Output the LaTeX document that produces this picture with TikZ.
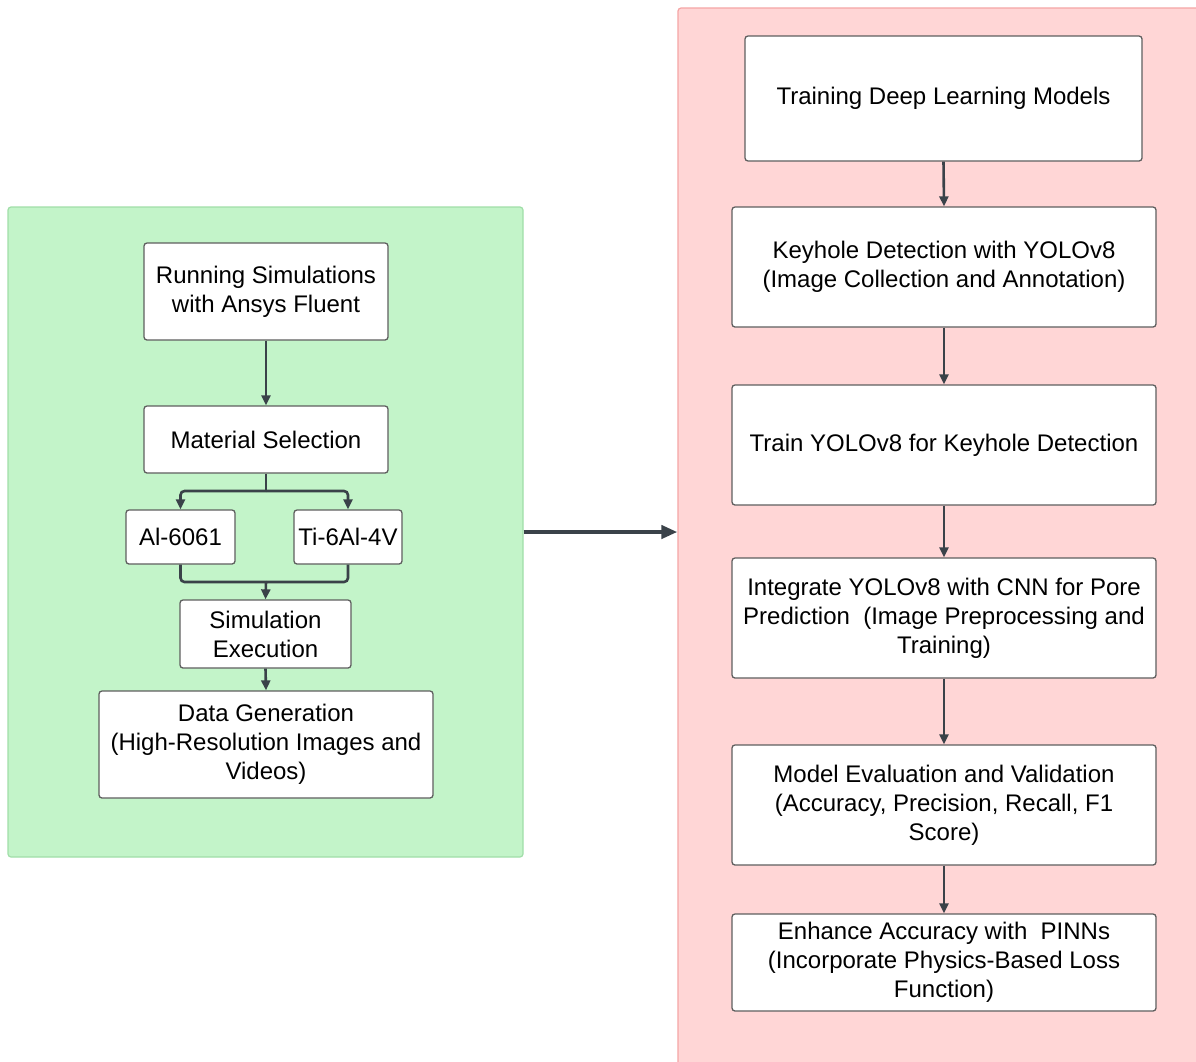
\documentclass[tikz,border=0pt]{standalone}
\usepackage{fontspec}
\setmainfont{Liberation Sans}
\usetikzlibrary{arrows.meta}
\definecolor{gfill}{RGB}{195,244,201}
\definecolor{gline}{RGB}{160,222,168}
\definecolor{rfill}{RGB}{255,214,214}
\definecolor{rline}{RGB}{245,165,165}
\definecolor{conncol}{RGB}{58,66,73}
\definecolor{boxline}{RGB}{95,95,95}
\tikzset{
  panelbox/.style={draw, line width=1.2pt, rounded corners=3pt, inner sep=0pt},
  stepbox/.style={draw=boxline, fill=white, line width=1.3pt, rounded corners=3pt,
    inner sep=0pt, align=center, font=\fontsize{24}{29}\selectfont},
  conn/.style={draw=conncol, line width=2.6pt,
    -{Triangle[length=10pt,width=9pt]}},
  bigconn/.style={draw=conncol, line width=4pt,
    -{Triangle[length=16pt,width=13pt]}},
}
\begin{document}
\begin{tikzpicture}[x=1pt,y=-1pt]
\useasboundingbox (0,0) rectangle (1196,1061);
% panels
\node[panelbox, draw=gline, fill=gfill, minimum width=515pt, minimum height=650pt] (gp) at (265.5,532) {};
\node[panelbox, draw=rline, fill=rfill, minimum width=540pt, minimum height=1080pt] (rp) at (948,548) {};
% left chain
\node[stepbox, minimum width=244pt, minimum height=97pt] (run) at (266,291.5) {Running Simulations\\with Ansys Fluent};
\node[stepbox, minimum width=244pt, minimum height=67pt] (mat) at (266,439.5) {Material Selection};
\node[stepbox, minimum width=109pt, minimum height=54pt] (al) at (180.5,537) {Al-6061};
\node[stepbox, minimum width=108pt, minimum height=54pt] (ti) at (348,537) {Ti-6Al-4V};
\node[stepbox, minimum width=171pt, minimum height=68pt] (sim) at (265.5,634) {Simulation\\Execution};
\node[stepbox, minimum width=334pt, minimum height=107pt] (data) at (266,744.5) {Data Generation\\(High-Resolution Images and\\Videos)};
% right chain
\node[stepbox, minimum width=397pt, minimum height=125pt] (tdl) at (943.5,98.5) {Training Deep Learning Models};
\node[stepbox, minimum width=424pt, minimum height=120pt] (key) at (944,267) {Keyhole Detection with YOLOv8\\(Image Collection and Annotation)};
\node[stepbox, minimum width=424pt, minimum height=120pt] (tyo) at (944,445) {Train YOLOv8 for Keyhole Detection};
\node[stepbox, minimum width=424pt, minimum height=120pt] (int) at (944,618) {Integrate YOLOv8 with CNN for Pore\\Prediction\ \ (Image Preprocessing and\\Training)};
\node[stepbox, minimum width=424pt, minimum height=120pt] (eval) at (944,805) {Model Evaluation and Validation\\(Accuracy, Precision, Recall, F1\\Score)};
\node[stepbox, minimum width=424pt, minimum height=97pt] (enh) at (944,962.5) {Enhance Accuracy with\ \ PINNs\\(Incorporate Physics-Based Loss\\Function)};
% left connectors
\draw[conn] (run.south) -- (mat.north);
\coordinate (split) at (266,491);
\coordinate (merge) at (266,582);
\draw[draw=conncol, line width=2.6pt] (mat.south) -- (split);
\draw[conn, rounded corners=4pt] (split) -| (al.north);
\draw[conn, rounded corners=4pt] (split) -| (ti.north);
\draw[draw=conncol, line width=2.6pt, rounded corners=4pt] (al.south) |- (merge);
\draw[draw=conncol, line width=2.6pt, rounded corners=4pt] (ti.south) |- (merge);
\draw[conn] (merge) -- (sim.north);
\draw[conn] (sim.south) -- (data.north);
% right connectors
\draw[conn] (tdl.south) -- (key.north);
\draw[conn] (key.south) -- (tyo.north);
\draw[conn] (tyo.south) -- (int.north);
\draw[conn] (int.south) -- (eval.north);
\draw[conn] (eval.south) -- (enh.north);
% between panels
\draw[bigconn] (gp.east) -- (gp.east -| rp.west);
\end{tikzpicture}
\end{document}
